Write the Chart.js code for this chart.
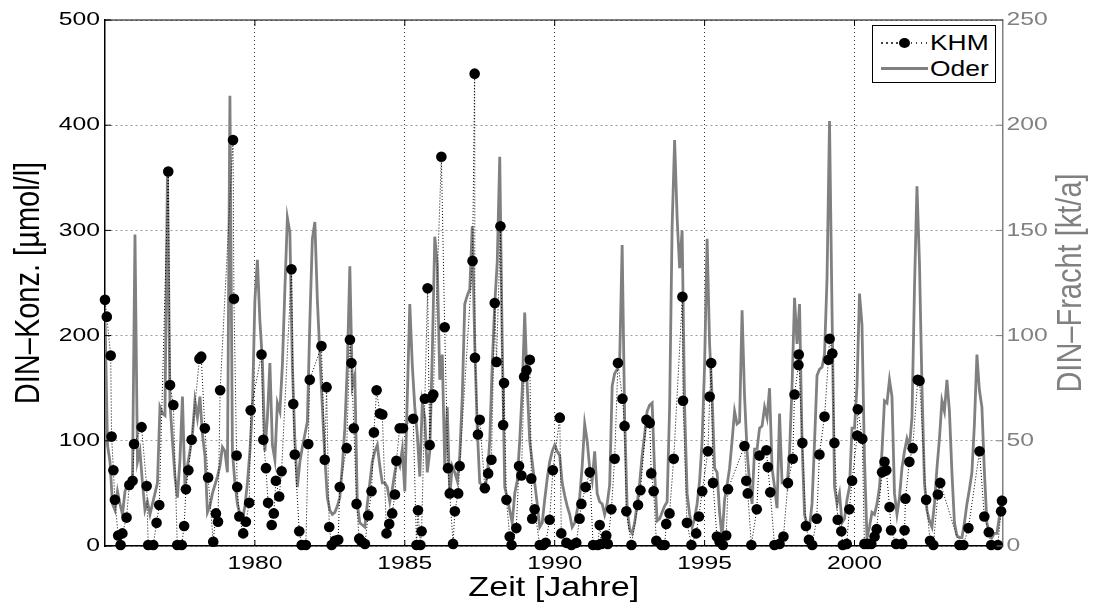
<!DOCTYPE html>
<html><head><meta charset="utf-8">
<script src="https://cdn.jsdelivr.net/npm/chart.js@4.4.1/dist/chart.umd.min.js"></script>
<style>
html,body{margin:0;padding:0;background:#fff;}
#wrap{position:relative;width:1095px;height:602px;overflow:hidden;}
canvas{display:block;}
#legend{position:absolute;left:872px;top:25px;width:122px;height:56px;border:1px solid #000;background:#fff;font-family:"Liberation Sans",Arial,sans-serif;font-size:22px;color:#000;}
.row{position:absolute;left:0;width:121px;height:26px;}
.txt{position:absolute;left:57px;top:0;line-height:26px;transform:scaleX(1.2);transform-origin:0 50%;}
.dots{position:absolute;left:8px;width:47px;top:12px;height:2px;background:repeating-linear-gradient(90deg,#444 0 1.5px,transparent 1.5px 5px);}
.dot{position:absolute;left:26px;top:8px;width:11px;height:10px;border-radius:50%;background:#000;}
.gline{position:absolute;left:8px;width:47px;top:11px;height:3px;background:#808080;}
</style></head>
<body>
<div id="wrap">
<canvas id="c" width="1095" height="602"></canvas>
<div id="legend">
 <div class="row" style="top:4px"><div class="dots"></div><div class="dot"></div><div class="txt">KHM</div></div>
 <div class="row" style="top:30px"><div class="gline"></div><div class="txt">Oder</div></div>
</div>
</div>
<script>
// ---------- data ----------
const xTickYears = [1980, 1985, 1990, 1995, 2000];
const leftTicksStep = 100;   // DIN-Konz. [µmol/l]
const rightTicksStep = 50;   // DIN-Fracht [kt/a]

// Oder DIN load [kt/a], monthly, Jan 1975 ... Dec 2004
const oderStartYear = 1975;
const oderMonthly = [
 110, 48, 40, 20, 17, 26, 20, 15, 26, 29, 31, 33,   // 1975
 148, 40, 45, 30, 17, 21, 15, 20, 25, 30, 66, 63,   // 1976
 62, 178, 68, 50, 33, 23, 41, 71, 28, 38, 45, 53,   // 1977
 69, 61, 71, 53, 43, 16, 19, 25, 29, 33, 38, 47,    // 1978
 45, 35, 214, 45, 30, 20, 15, 12, 19, 30, 45, 66,   // 1979
 117, 136, 107, 88, 45, 61, 87, 48, 41, 68, 64, 86, // 1980
 122, 156, 149, 86, 50, 28, 40, 47, 53, 59, 107, 146, // 1981
 154, 117, 91, 66, 42, 23, 17, 15, 16, 19, 23, 38,  // 1982
 56, 86, 133, 76, 81, 20, 11, 10, 9, 20, 30, 40,    // 1983
 45, 48, 38, 30, 30, 28, 21, 27, 35, 41, 38, 46,    // 1984
 26, 71, 115, 86, 66, 53, 33, 68, 61, 35, 45, 91,   // 1985
 147, 134, 79, 91, 37, 66, 24, 38, 35, 31, 43, 71,  // 1986
 115, 119, 122, 152, 96, 56, 30, 29, 28, 33, 50, 86, // 1987
 115, 135, 185, 96, 28, 23, 17, 11, 25, 31, 50, 74, // 1988
 111, 76, 50, 40, 30, 20, 9, 11, 22, 32, 40, 45,    // 1989
 48, 45, 43, 30, 24, 19, 15, 9, 11, 17, 23, 38,     // 1990
 58, 50, 37, 31, 45, 25, 21, 20, 15, 20, 29, 76,    // 1991
 82, 84, 88, 143, 61, 18, 8, 6, 11, 20, 30, 43,     // 1992
 53, 64, 67, 68, 35, 12, 13, 16, 19, 21, 66, 152,   // 1993
 193, 156, 132, 150, 66, 25, 15, 9, 13, 20, 31, 50, // 1994
 86, 146, 96, 71, 37, 35, 16, 4, 22, 29, 37, 50,    // 1995
 64, 58, 59, 112, 71, 45, 30, 20, 46, 46, 56, 57,   // 1996
 66, 61, 75, 37, 28, 18, 63, 30, 30, 28, 45, 76,    // 1997
 118, 96, 115, 50, 15, 10, 9, 20, 49, 81, 84, 85,   // 1998
 91, 127, 202, 112, 28, 20, 25, 11, 13, 22, 28, 56, // 1999
 56, 76, 120, 105, 41, 4, 9, 16, 15, 20, 28, 45,    // 2000
 69, 68, 79, 71, 25, 15, 23, 37, 45, 51, 47, 61,    // 2001
 122, 171, 135, 76, 30, 17, 12, 9, 20, 37, 51, 69,  // 2002
 64, 79, 64, 35, 11, 5, 4, 4, 11, 20, 27, 35,       // 2003
 58, 91, 74, 66, 35, 11, 6, 4, 6, 6, 14, 24         // 2004
];

// KHM DIN concentration [µmol/l]: sampling times (decimal years) and values
const khmTime = [
 1975.00,1975.06,1975.19,1975.22,1975.28,1975.33,1975.44,1975.52,1975.58,1975.72,1975.81,1975.92,1975.97,
 1976.22,1976.39,1976.44,1976.61,1976.72,1976.81,
 1977.11,1977.17,1977.28,1977.41,1977.56,1977.64,1977.70,1977.78,1977.89,
 1978.15,1978.21,1978.33,1978.44,1978.61,1978.70,1978.77,1978.84,
 1979.27,1979.30,1979.39,1979.41,1979.48,1979.61,1979.70,1979.81,1979.86,
 1980.22,1980.28,1980.37,1980.44,1980.56,1980.63,1980.70,1980.81,1980.89,
 1981.22,1981.28,1981.33,1981.48,1981.56,1981.70,1981.78,1981.83,
 1982.22,1982.33,1982.39,1982.48,1982.56,1982.67,1982.78,1982.83,
 1983.06,1983.17,1983.22,1983.30,1983.39,1983.48,1983.56,1983.67,1983.78,1983.89,1983.97,
 1984.06,1984.17,1984.25,1984.39,1984.48,1984.58,1984.67,1984.72,1984.83,1984.94,
 1985.28,1985.39,1985.44,1985.52,1985.56,1985.67,1985.76,1985.83,1985.89,1985.95,
 1986.22,1986.33,1986.44,1986.50,1986.61,1986.67,1986.78,1986.83,
 1987.26,1987.33,1987.34,1987.44,1987.50,1987.67,1987.78,1987.89,
 1988.00,1988.06,1988.19,1988.28,1988.31,1988.39,1988.50,1988.56,1988.72,1988.81,1988.89,1988.98,
 1989.06,1989.17,1989.22,1989.25,1989.33,1989.50,1989.61,1989.70,1989.83,1989.94,
 1990.17,1990.22,1990.39,1990.56,1990.72,1990.83,1990.89,1991.03,
 1991.17,1991.28,1991.44,1991.50,1991.56,1991.72,1991.77,1991.89,1992.00,
 1992.11,1992.26,1992.33,1992.39,1992.56,1992.78,1992.86,
 1993.06,1993.17,1993.22,1993.30,1993.39,1993.56,1993.67,1993.72,1993.83,1993.97,
 1994.26,1994.28,1994.41,1994.56,1994.72,1994.81,1994.92,
 1995.11,1995.17,1995.22,1995.28,1995.41,1995.50,1995.61,1995.72,1995.78,
 1996.33,1996.39,1996.44,1996.56,1996.74,1996.83,
 1997.06,1997.11,1997.19,1997.33,1997.50,1997.63,1997.78,1997.94,
 1998.00,1998.13,1998.14,1998.26,1998.38,1998.48,1998.59,1998.74,1998.83,
 1999.00,1999.13,1999.17,1999.26,1999.33,1999.44,1999.56,1999.61,1999.74,1999.83,1999.92,
 2000.09,2000.11,2000.26,2000.33,2000.44,2000.56,2000.67,2000.74,2000.92,
 2001.00,2001.06,2001.17,2001.22,2001.39,2001.59,2001.67,2001.70,2001.83,2001.94,
 2002.11,2002.17,2002.39,2002.52,2002.63,2002.78,2002.86,
 2003.50,2003.63,2003.80,
 2004.17,2004.33,2004.48,2004.56,2004.78,2004.89,2004.92
];
const khmValue = [
 234,218,181,104,72,44,10,1,12,27,58,62,97,
 113,57,1,1,22,39,
 356,153,134,1,1,19,54,72,101,
 178,180,112,65,4,31,23,148,
 386,235,86,56,28,12,23,41,129,
 182,101,74,41,20,31,62,47,71,
 263,135,87,14,1,1,97,158,
 190,82,151,18,1,5,6,56,
 93,196,174,112,40,7,4,2,29,52,108,
 148,126,125,12,21,31,49,81,112,112,
 121,1,34,1,14,140,245,96,141,144,
 370,208,74,50,2,33,50,76,
 271,449,179,106,120,55,69,82,
 231,175,304,115,155,44,9,1,17,76,67,161,
 167,177,64,26,35,1,1,3,25,72,
 122,12,3,1,3,26,40,56,
 70,1,1,20,2,10,2,35,83,
 174,140,114,33,1,39,53,
 120,117,69,52,5,1,1,21,31,83,
 237,138,22,1,12,28,52,
 90,142,174,60,9,4,1,10,54,
 95,62,50,1,35,86,
 91,75,51,1,2,9,60,83,
 144,172,182,98,19,6,1,26,87,
 123,177,197,183,98,25,14,1,2,35,62,
 105,130,102,2,2,2,9,16,70,
 80,72,37,15,2,2,15,45,80,93,
 158,157,44,5,1,49,60,
 1,1,17,
 90,28,13,1,1,33,43
];

// ---------- chart ----------
const FONT = '"Liberation Sans", Arial, Helvetica, sans-serif';
const GRAY = '#808080';

const canvas = document.getElementById('c');
const ctx0 = canvas.getContext('2d');
// The reference text is rendered horizontally widened; emulate by stretching glyphs along the page x axis.
const origFillText = ctx0.fillText;
ctx0.fillText = function (text, x, y, maxWidth) {
  const k = /\b(19|20|21)px/.test(this.font) ? 1.3 : 1.22;
  const m = this.getTransform();
  const px = m.a * x + m.c * y + m.e;
  this.save();
  this.setTransform(k, 0, 0, 1, px - k * px, 0);
  this.transform(m.a, m.b, m.c, m.d, m.e, m.f);
  if (maxWidth === undefined) origFillText.call(this, text, x, y);
  else origFillText.call(this, text, x, y, maxWidth * 2);
  this.restore();
};

const khmPoints = khmTime.map((t, i) => ({x: t, y: khmValue[i]}));
const oderPoints = oderMonthly.map((v, i) => ({x: oderStartYear + i / 12, y: v}));

const framePlugin = {
  id: 'frame',
  afterDraw(chart) {
    const {ctx, chartArea: a, scales} = chart;
    const line = (x1, y1, x2, y2) => { ctx.beginPath(); ctx.moveTo(x1, y1); ctx.lineTo(x2, y2); ctx.stroke(); };
    ctx.save();
    ctx.strokeStyle = '#000';
    ctx.lineWidth = 1.2;
    line(a.left, a.top, a.right, a.top);
    ctx.lineWidth = 1;
    scales.y.ticks.forEach(t => { const p = scales.y.getPixelForValue(t.value); line(a.left, p, a.left + 6, p); });
    scales.x.ticks.forEach(t => { const p = scales.x.getPixelForValue(t.value); line(p, a.bottom, p, a.bottom - 6); line(p, a.top, p, a.top + 6); });
    ctx.strokeStyle = GRAY;
    scales.y2.ticks.forEach(t => { const p = scales.y2.getPixelForValue(t.value); line(a.right - 6, p, a.right, p); });
    // right axis title (reads bottom-to-top)
    ctx.fillStyle = GRAY;
    ctx.font = '29px ' + FONT;
    ctx.translate(1081, (a.top + a.bottom) / 2);
    ctx.rotate(-Math.PI / 2);
    ctx.textAlign = 'center';
    ctx.textBaseline = 'alphabetic';
    ctx.fillText('DIN–Fracht [kt/a]', 0, 0);
    ctx.restore();
  }
};

new Chart(canvas, {
  type: 'scatter',
  data: {
    datasets: [
      {
        label: 'KHM', data: khmPoints, yAxisID: 'y', showLine: true,
        borderColor: '#000', borderWidth: 1, borderDash: [1, 2],
        pointRadius: 5.3, pointHoverRadius: 5.3, pointBackgroundColor: '#000', pointBorderWidth: 0,
        order: 0, clip: false
      },
      {
        label: 'Oder', data: oderPoints, yAxisID: 'y2', showLine: true,
        borderColor: GRAY, borderWidth: 2.8, pointRadius: 0, tension: 0,
        order: 1
      }
    ]
  },
  options: {
    responsive: false, animation: false, events: [],
    layout: {padding: {top: 20, left: 0, right: 0, bottom: 0}},
    plugins: {legend: {display: false}, tooltip: {enabled: false}},
    scales: {
      x: {
        type: 'linear', position: 'bottom', min: 1975, max: 2004.94,
        afterBuildTicks: s => { s.ticks = xTickYears.map(v => ({value: v})); },
        afterFit: s => { s.height = 56; },
        ticks: {color: '#000', font: {family: FONT, size: 19}, padding: 6, maxRotation: 0, autoSkip: false, callback: v => String(v)},
        grid: {color: '#333', lineWidth: 1, drawTicks: false},
        border: {display: true, color: '#000', width: 1.5, dash: [1, 3]},
        title: {display: true, text: 'Zeit [Jahre]', color: '#000', font: {family: FONT, size: 28, lineHeight: 1}, padding: {top: 0, bottom: 0}}
      },
      y: {
        position: 'left', min: 0, max: 500,
        afterFit: s => { s.width = 105; },
        ticks: {stepSize: leftTicksStep, color: '#000', font: {family: FONT, size: 19}, padding: 5},
        grid: {color: '#9a9a9a', lineWidth: 1, drawTicks: false},
        border: {display: true, color: '#000', width: 1.5, dash: [2, 3]},
        title: {display: true, text: 'DIN–Konz. [µmol/l]', color: '#000', font: {family: FONT, size: 29, lineHeight: 1.2}, padding: {top: 12, bottom: 0}}
      },
      y2: {
        position: 'right', min: 0, max: 250,
        afterFit: s => { s.width = 92.4; },
        ticks: {stepSize: rightTicksStep, color: GRAY, font: {family: FONT, size: 19}, padding: 4},
        grid: {display: false, drawOnChartArea: false, drawTicks: false},
        border: {display: true, color: GRAY, width: 1.5}
      }
    }
  },
  plugins: [framePlugin]
});
</script>
</body></html>
